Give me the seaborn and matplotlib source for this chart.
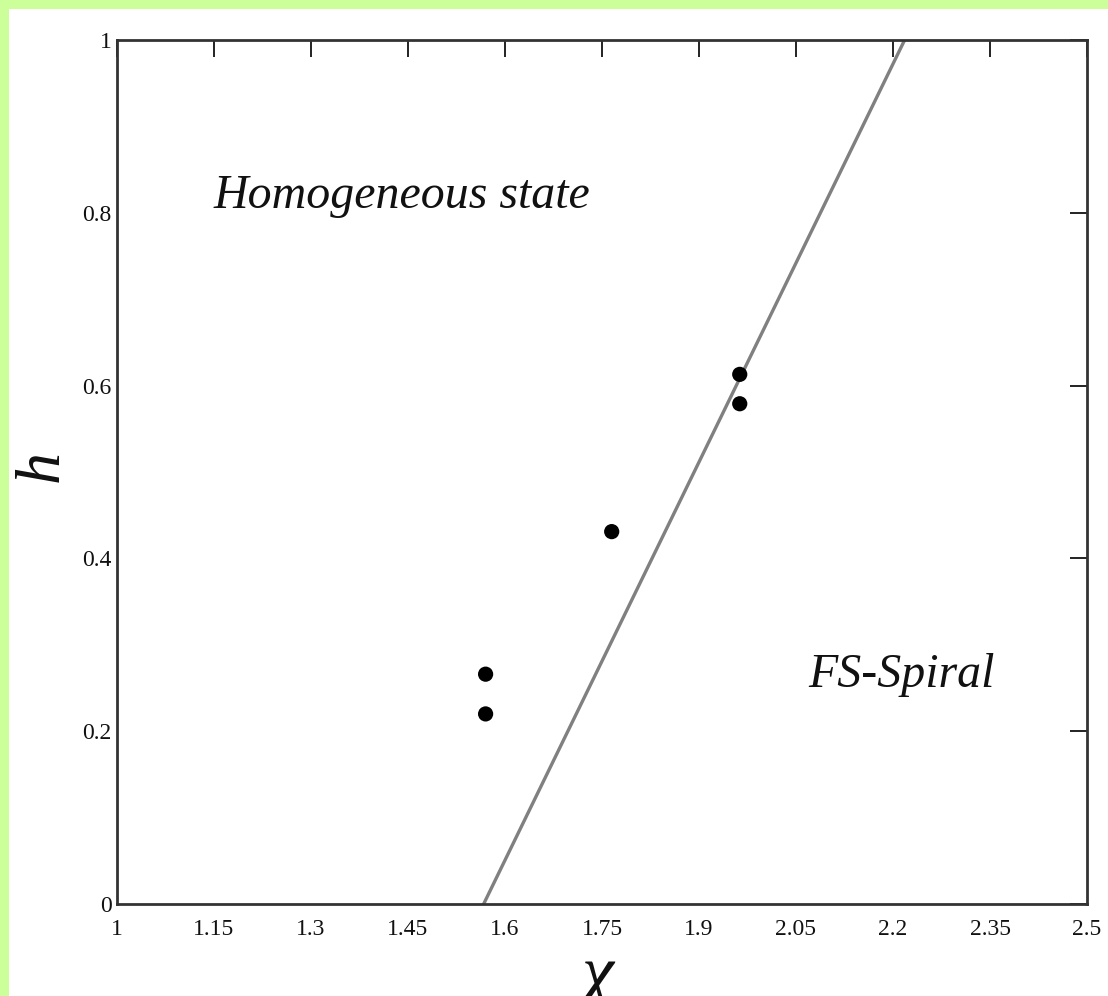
import matplotlib
matplotlib.use("Agg")
import matplotlib.pyplot as plt
from matplotlib.patches import Rectangle
import seaborn as sns
import pandas as pd

# Simulated state points (chi, h)
chi_points = [1.57, 1.57, 1.765, 1.963, 1.963]
h_points = [0.266, 0.220, 0.431, 0.613, 0.579]

# Phase boundary between the homogeneous state and the FS-spiral
boundary_chi = [1.567, 2.218]
boundary_h = [0.0, 1.0]

x_ticks = [1, 1.15, 1.3, 1.45, 1.6, 1.75, 1.9, 2.05, 2.2, 2.35, 2.5]
x_tick_labels = ["1", "1.15", "1.3", "1.45", "1.6", "1.75", "1.9", "2.05", "2.2", "2.35", "2.5"]
y_ticks = [0, 0.2, 0.4, 0.6, 0.8, 1.0]
y_tick_labels = ["0", "0.2", "0.4", "0.6", "0.8", "1"]

region_labels = ["Homogeneous state", "FS-Spiral"]
region_x = [1.1485, 2.0685]
region_y = [0.8056, 0.2512]

sns.set_theme(style="white")
plt.rcParams["font.family"] = ["Liberation Serif", "DejaVu Serif"]

fig = plt.figure(figsize=(11.08, 9.96), dpi=100, facecolor="#ccff99")
# white panel inside the green frame
fig.add_artist(Rectangle((9 / 1108, 0), 1, 1 - 9 / 996, transform=fig.transFigure,
                         facecolor="white", edgecolor="none", zorder=-10))
ax = fig.add_axes([117 / 1108, 92 / 996, 970 / 1108, 864 / 996])
ax.set_facecolor("white")

pts = pd.DataFrame({"chi": chi_points, "h": h_points})
line = pd.DataFrame({"chi": boundary_chi, "h": boundary_h})

sns.lineplot(data=line, x="chi", y="h", ax=ax, color="#808080", linewidth=2.4,
             sort=False, estimator=None)
sns.scatterplot(data=pts, x="chi", y="h", ax=ax, color="black", s=120,
                edgecolor="none", zorder=3)

ax.set_xlim(1, 2.5)
ax.set_ylim(0, 1)
ax.set_xticks(x_ticks)
ax.set_xticklabels(x_tick_labels)
ax.set_yticks(y_ticks)
ax.set_yticklabels(y_tick_labels)
ax.tick_params(axis="both", direction="in", length=12, width=1.4, color="#222222",
               labelcolor="#111111", labelsize=17, top=True, right=True)
ax.tick_params(axis="x", pad=11)
ax.tick_params(axis="y", pad=4)
for sp in ax.spines.values():
    sp.set_visible(True)
    sp.set_color("#333333")
    sp.set_linewidth(2)

ax.set_xlabel("χ", fontsize=52, style="italic", color="#111111")
ax.set_ylabel("h", fontsize=46, style="italic", color="#111111")
ax.xaxis.set_label_coords(0.496, -0.048)
ax.yaxis.set_label_coords(-0.047, 0.507)

for txt, tx, ty in zip(region_labels, region_x, region_y):
    ax.text(tx, ty, txt, fontsize=34.5, style="italic", color="#111111",
            ha="left", va="baseline")

fig.savefig("out.png", dpi=100, facecolor=fig.get_facecolor())
